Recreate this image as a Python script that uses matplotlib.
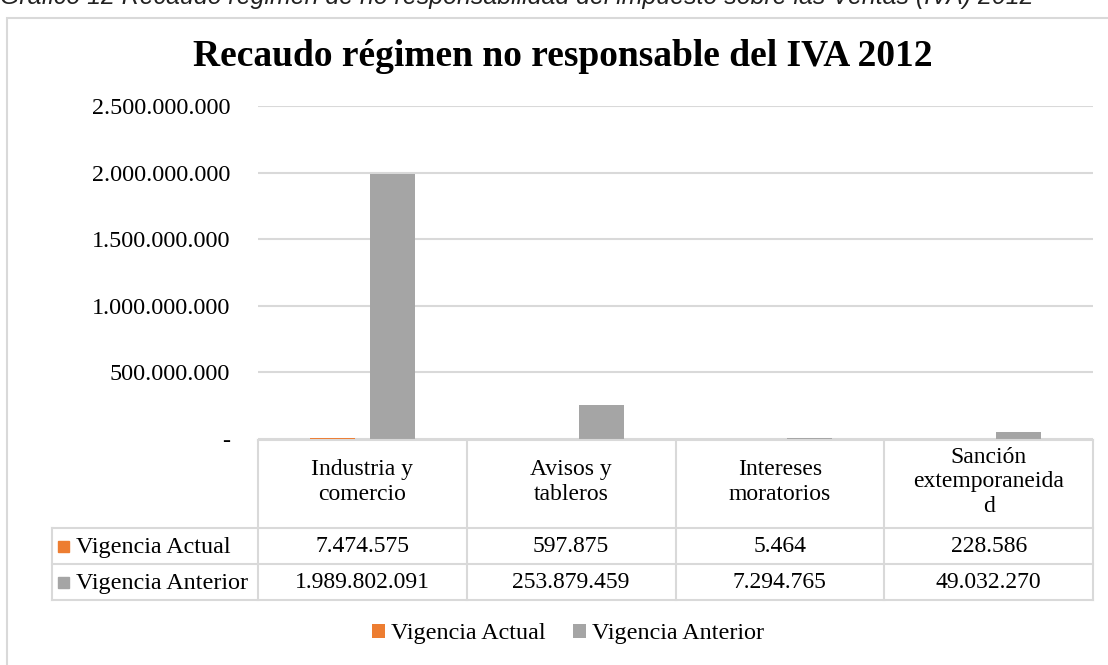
import matplotlib
matplotlib.use("Agg")
import matplotlib.pyplot as plt
from matplotlib.patches import Rectangle
from matplotlib.lines import Line2D

categories = ["Industria y\ncomercio", "Avisos y\ntableros", "Intereses\nmoratorios", "Sanción\nextemporaneida\nd"]
series_names = ["Vigencia Actual", "Vigencia Anterior"]
vigencia_actual = [7474575, 597875, 5464, 228586]
vigencia_anterior = [1989802091, 253879459, 7294765, 49032270]
y_ticks = [0, 500000000, 1000000000, 1500000000, 2000000000, 2500000000]
title = "Recaudo régimen no responsable del IVA 2012"
caption = "Gráfico 12 Recaudo régimen de no responsabilidad del impuesto sobre las Ventas (IVA) 2012"

colors = ["#ED7D31", "#A5A5A5"]
grid_c = "#D9D9D9"
serif = ["Liberation Serif", "DejaVu Serif"]

W, H = 1108, 665
fig = plt.figure(figsize=(W / 100, H / 100), dpi=100)

def fx(px):
    return px / W

def fy(py):
    return 1 - py / H

def fmt(v):
    return f"{v:,}".replace(",", ".") if v != 0 else "-"

# chart border
fig.patches.append(Rectangle((fx(7), fy(700)), fx(1200), fy(18) - fy(700), transform=fig.transFigure,
                             fill=False, edgecolor=grid_c, lw=1.5, zorder=0))

# caption (partially clipped at top)
fig.text(fx(0), fy(4), caption, fontsize=17.9, style="italic", family=["Liberation Sans", "DejaVu Sans"],
         color="#222222", ha="left", va="baseline")

# title
fig.text(fx(563), fy(56), title, fontsize=27, weight="bold", family=serif, ha="center", va="center")

# plot axes
left, right, top, bottom = 258, 1093, 106, 439
ax = fig.add_axes([fx(left), fy(bottom), fx(right - left), fy(top) - fy(bottom)])
ax.set_xlim(-0.5, len(categories) - 0.5)
ax.set_ylim(y_ticks[0], y_ticks[-1])
ax.set_yticks(y_ticks)
ax.set_yticklabels([fmt(v) for v in y_ticks], family=serif, fontsize=17.4)
ax.tick_params(axis="y", length=0, pad=20)
ax.set_xticks([])
for s in ax.spines.values():
    s.set_visible(False)
ax.yaxis.grid(True, color=grid_c, lw=1.5)
ax.set_axisbelow(True)

bw = 0.215
off = 0.144
xs = range(len(categories))
b1 = ax.bar([x - off for x in xs], vigencia_actual, width=bw, color=colors[0], label=series_names[0], zorder=2)
b2 = ax.bar([x + off for x in xs], vigencia_anterior, width=bw, color=colors[1], label=series_names[1], zorder=2)

# data table
col_w = (right - left) / len(categories)
hdr_top, hdr_bot = 440, 528
row_edges = [528, 564, 600]
tab_left = 52
lw = 1.5

def hline(y, x0, x1):
    fig.lines.append(Line2D([fx(x0), fx(x1)], [fy(y), fy(y)], transform=fig.transFigure, color=grid_c, lw=lw))

def vline(x, y0, y1):
    fig.lines.append(Line2D([fx(x), fx(x)], [fy(y0), fy(y1)], transform=fig.transFigure, color=grid_c, lw=lw))

hline(hdr_top, left, right)
for y in row_edges:
    hline(y, tab_left, right)
for i in range(len(categories) + 1):
    vline(left + i * col_w, hdr_top, row_edges[-1])
vline(tab_left, row_edges[0], row_edges[-1])

for i, c in enumerate(categories):
    cx = left + (i + 0.5) * col_w
    fig.text(fx(cx), fy(482), c, family=serif, fontsize=17, ha="center", va="center",
             linespacing=1.22)

for r, (name, vals) in enumerate(zip(series_names, [vigencia_actual, vigencia_anterior])):
    cy = (row_edges[r] + row_edges[r + 1]) / 2
    fig.patches.append(Rectangle((fx(58), fy(cy + 6)), fx(11), fy(cy - 5) - fy(cy + 6), transform=fig.transFigure,
                                 color=colors[r]))
    fig.text(fx(76), fy(cy + 1), name, family=serif, fontsize=17.4, ha="left", va="center")
    for i, v in enumerate(vals):
        cx = left + (i + 0.5) * col_w
        fig.text(fx(cx), fy(cy + 1), fmt(v), family=serif, fontsize=17, ha="center", va="center")

leg = fig.legend(handles=[b1, b2], labels=series_names, loc="center", bbox_to_anchor=(fx(568), fy(634)),
                 ncol=2, frameon=False, prop={"family": serif, "size": 17.4}, handlelength=0.55,
                 handleheight=0.55, handletextpad=0.25, columnspacing=1.1)

fig.savefig("out.png", dpi=100)
